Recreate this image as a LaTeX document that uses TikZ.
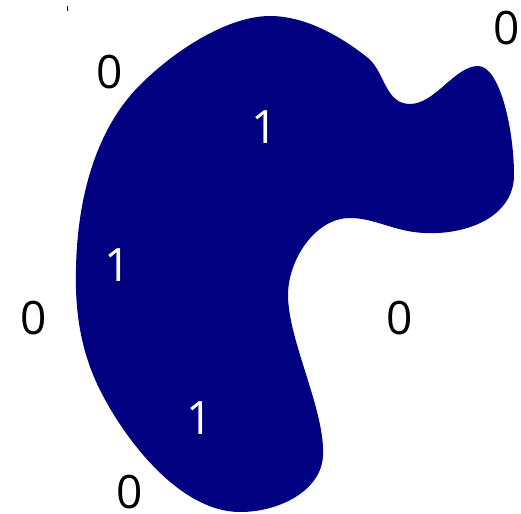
\documentclass[tikz,border=0pt]{standalone}
\usepackage{fontspec}
\setmainfont{Open Sans}
\definecolor{blobnavy}{RGB}{0,0,128}
\tikzset{
  zero/.style={inner sep=0pt, text=black, font=\fontsize{46}{55}\selectfont},
  one/.style={inner sep=0pt, text=white, font=\fontsize{46}{55}\selectfont}
}

\begin{document}
\begin{tikzpicture}[x=1pt, y=-1pt]
                % Frame:
                \useasboundingbox (0, 0) rectangle (521, 513);
                % Region (filled blob):
                \fill[blobnavy] (270,16) .. controls (310,16) and (348,42) .. (368,58)
                    .. controls (385,72) and (385,104) .. (410,104)
                    .. controls (435,104) and (455,66) .. (478,66)
                    .. controls (500,66) and (514,130) .. (514,175)
                    .. controls (514,215) and (470,235) .. (425,233)
                    .. controls (395,232) and (375,218) .. (350,218)
                    .. controls (315,218) and (288,260) .. (288,295)
                    .. controls (288,340) and (325,410) .. (323,455)
                    .. controls (322,490) and (280,512) .. (240,512)
                    .. controls (180,512) and (125,440) .. (100,390)
                    .. controls (80,350) and (75,310) .. (76,270)
                    .. controls (77,200) and (95,130) .. (140,85)
                    .. controls (175,50) and (228,16) .. (270,16) -- cycle;
                \draw[blobnavy, line width=1pt] (67, 6) -- (67, 11);
                % Labels inside:
                \node[one](I1) at (265, 127){1};
                \node[one](I2) at (118, 265){1};
                \node[one](I3) at (200, 418){1};
                % Labels outside:
                \node[zero](O1) at (110, 72){0};
                \node[zero](O2) at (507, 28){0};
                \node[zero](O3) at (34, 318){0};
                \node[zero](O4) at (400, 318){0};
                \node[zero](O5) at (130, 492){0};
            \end{tikzpicture}
\end{document}
